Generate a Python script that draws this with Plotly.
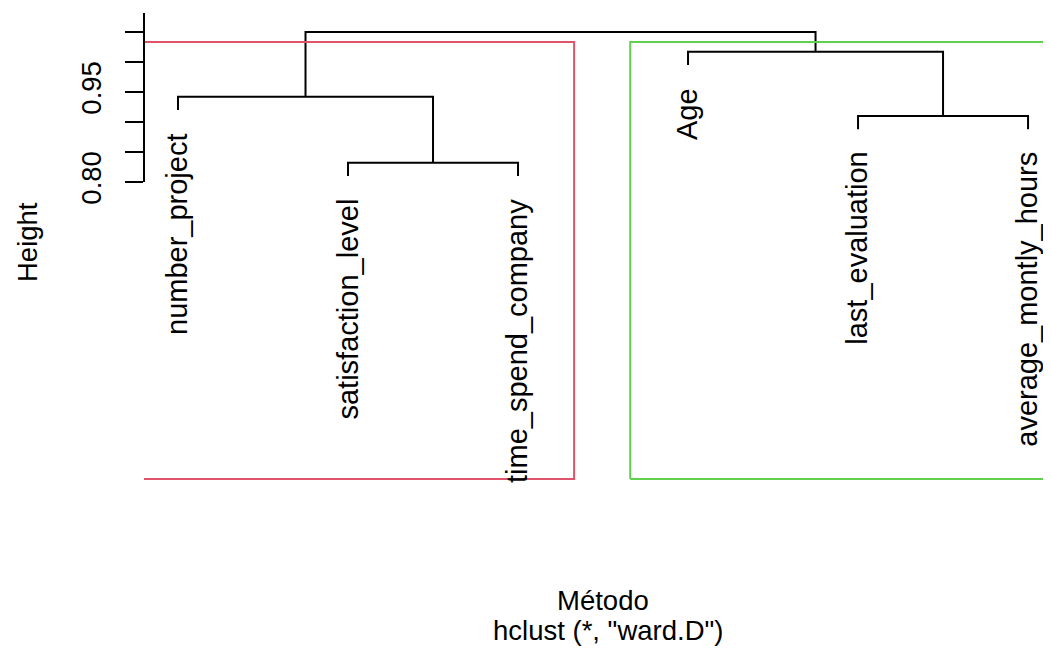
import plotly.graph_objects as go

# ---------------- data ----------------
labels = ["number_project", "satisfaction_level", "time_spend_company",
          "Age", "last_evaluation", "average_montly_hours"]
# hclust-style merge matrix (negative = leaf index, positive = earlier merge)
merge = [[-2, -3], [-5, -6], [-1, 1], [-4, 2], [3, 4]]
heights = [0.832, 0.910, 0.942, 1.017, 1.050]
order = [1, 2, 3, 4, 5, 6]
hang = 0.022
clusters = [[1, 2, 3], [4, 5, 6]]
cluster_colors = ["#DF536B", "#61D04F"]
tick_vals = [0.80, 0.85, 0.90, 0.95, 1.00, 1.05]
tick_text = ["0.80", "", "", "0.95", "", ""]
xlab = "Método"
sub = 'hclust (*, "ward.D")'
ylab = "Height"

# ---------------- layout constants ----------------
OFF = 8                      # page body margin of the html page
W, H = 1043, 644
ML, MR, MT, MB = 136, 0, 0, 168
PH = H - MT - MB
y_range = [0.29667, 1.09]
x_range = [0.8, 6.135]
rect_bottom = 0.305
axis_top = 1.0817
FONT = "Liberation Sans, Arial, Helvetica, sans-serif"
FS = 27.5
FS_LEAF = 29

# ---------------- build dendrogram segments ----------------
seg_x, seg_y = [], []
node_x, node_h = {}, {}
leaf_end = {}
for i, (a, b) in enumerate(merge, start=1):
    h = heights[i - 1]
    pts = []
    for c in (a, b):
        if c < 0:
            x = order.index(-c) + 1
            y = h - hang
            leaf_end[-c] = y
        else:
            x = node_x[c]
            y = node_h[c]
        pts.append((x, y))
    (xl, yl), (xr, yr) = pts
    seg_x += [xl, xl, xr, xr, None]
    seg_y += [yl, h, h, yr, None]
    node_x[i] = (xl + xr) / 2
    node_h[i] = h

fig = go.Figure()
fig.add_trace(go.Scatter(x=seg_x, y=seg_y, mode="lines",
                         line=dict(color="black", width=2),
                         hoverinfo="skip", showlegend=False))

# rect.hclust boxes
rect_top = (heights[-1] + heights[-2]) / 2
for mem, col in zip(clusters, cluster_colors):
    x0 = min(order.index(m) for m in mem) + 1 - 0.34
    x1 = max(order.index(m) for m in mem) + 1 + 0.33
    fig.add_trace(go.Scatter(x=[x0, x1, x1, x0, x0],
                             y=[rect_bottom, rect_bottom, rect_top, rect_top, rect_bottom],
                             mode="lines", line=dict(color=col, width=2),
                             hoverinfo="skip", showlegend=False))

annotations = []
for leaf in order:
    annotations.append(dict(x=order.index(leaf) + 1, y=leaf_end[leaf], xref="x", yref="y",
                            text=labels[leaf - 1], textangle=-90, showarrow=False,
                            xanchor="center", yanchor="top", yshift=-21, xshift=-1,
                            font=dict(family=FONT, size=FS_LEAF, color="black")))

def px_x(p):
    return (p - OFF - ML) / (W - ML - MR)

def px_y(p):
    return (MT + PH - (p - OFF)) / PH

annotations.append(dict(x=px_x(603), y=px_y(600), xref="paper", yref="paper", text=xlab,
                        showarrow=False, xanchor="center", yanchor="middle",
                        font=dict(family=FONT, size=FS, color="black")))
annotations.append(dict(x=px_x(608), y=px_y(630), xref="paper", yref="paper", text=sub,
                        showarrow=False, xanchor="center", yanchor="middle",
                        font=dict(family=FONT, size=FS, color="black")))
annotations.append(dict(x=px_x(27), y=px_y(242), xref="paper", yref="paper", text=ylab,
                        textangle=-90, showarrow=False, xanchor="center", yanchor="middle",
                        font=dict(family=FONT, size=FS, color="black")))

fig.update_layout(
    width=W, height=H,
    margin=dict(l=ML, r=MR, t=MT, b=MB, pad=0),
    plot_bgcolor="white", paper_bgcolor="white",
    showlegend=False,
    annotations=annotations,
    shapes=[dict(type="line", xref="paper", yref="y", x0=0, x1=0, y0=tick_vals[0], y1=axis_top,
                 line=dict(color="black", width=2))],
    xaxis=dict(range=x_range, visible=False, showgrid=False, zeroline=False, fixedrange=True),
    yaxis=dict(range=y_range, tickvals=tick_vals, ticktext=tick_text, ticks="outside",
               ticklen=18, tickwidth=2, tickcolor="black", showline=False, showgrid=False,
               zeroline=False, tickangle=-90, ticklabelstandoff=13,
               tickfont=dict(family=FONT, size=FS, color="black"), fixedrange=True),
)

fig.write_html("out.html")
